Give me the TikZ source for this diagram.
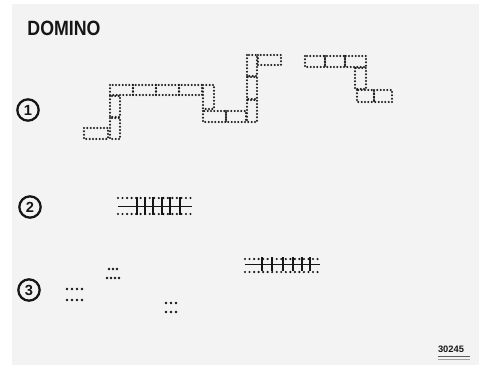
\documentclass[tikz,border=0pt]{standalone}
\usepackage{fontspec}
\setmainfont{Liberation Sans}
\usetikzlibrary{positioning}
\definecolor{cpaper}{HTML}{F3F3F3}
\definecolor{cink}{HTML}{161616}
\tikzset{
  every picture/.style={line width=0.8pt},
  domino/.style={draw=cink, line width=1.7pt, line cap=round, dash pattern=on 0pt off 2.5pt},
  dotrow/.style={draw=cink, line width=1.8pt, line cap=round, dash pattern=on 0pt off 3.4pt},
  ruled/.style={draw=cink, line width=1.1pt},
  num/.style={circle, draw=cink, line width=1.7pt, inner sep=0pt, minimum size=16pt, font=\bfseries\fontsize{11}{11}\selectfont, text=cink},
  title/.style={font=\bfseries\fontsize{15.5}{15.5}\selectfont, text=cink, anchor=north west, inner sep=0pt, xscale=0.86},
}
% one tile: corners in pixels
\newcommand{\tile}[4]{\draw[domino] (#1,#2) rectangle (#3,#4);}
% a row of dots
\newcommand{\dotrun}[4]{\foreach \i in {1,...,#3} {\fill[cink] ({#1+(\i-1)*#4},#2) circle (1.3);}}
\begin{document}
\begin{tikzpicture}[x=0.75pt, y=-0.75pt]
  \useasboundingbox (0,0) rectangle (484,365);
  \fill[cpaper] (12,4) rectangle (479,365);

  \node[title] (head) at (27,21) {DOMINO};
  \node[num] (n1) at (28,110) {1};
  \node[num] (n2) at (30,207) {2};
  \node[num] (n3) at (29,290) {3};

  % figure 1: the long chain
  \tile{84}{128}{108}{139}
  \tile{110}{118}{120}{139}
  \tile{110}{96}{120}{117}
  \foreach \x in {110,133,156,179} {\tile{\x}{85}{\x+23}{95}}
  \tile{203}{85}{214}{109}
  \tile{203}{111}{226}{122}
  \tile{226}{111}{246}{122}
  \tile{247}{100}{257}{122}
  \tile{247}{77}{257}{99}
  \tile{247}{55}{257}{76}
  \tile{258}{55}{281}{65}
  \tile{305}{56}{325}{67}
  \tile{325}{56}{345}{67}
  \tile{345}{56}{366}{67}
  \tile{355}{68}{366}{89}
  \tile{357}{90}{374}{102}
  \tile{374}{90}{392}{102}

  % figure 2
  \draw[dotrow] (118,198) -- (192,198);
  \draw[dotrow] (118,214) -- (192,214);
  \draw[ruled] (118,206.5) -- (192,206.5);
  \foreach \x in {137,145,153,162,170,180} {\draw[ruled] (\x,197) -- (\x,215);}

  % figure 3
  \draw[dotrow] (245,259) -- (320,259);
  \draw[dotrow] (245,272) -- (320,272);
  \draw[ruled] (245,264.5) -- (320,264.5);
  \foreach \x in {262,272,283,293,302,310} {\draw[ruled] (\x,257) -- (\x,271);}
  \dotrun{109}{269}{3}{4}
  \dotrun{107}{278}{4}{4}
  \dotrun{67}{289}{4}{5}
  \dotrun{67}{300}{4}{5}
  \dotrun{166}{303}{3}{5}
  \dotrun{166}{312}{3}{5}

  % stamp
  \node[font=\bfseries\fontsize{7}{7}\selectfont, text=cink, inner sep=0pt] (stamp) at (451,349) {30245};
  \draw[cink!70, line width=0.6pt] (438,356.5) -- (470,356.5);
  \draw[cink!40, line width=0.5pt] (438,359.5) -- (470,359.5);
\end{tikzpicture}
\end{document}
